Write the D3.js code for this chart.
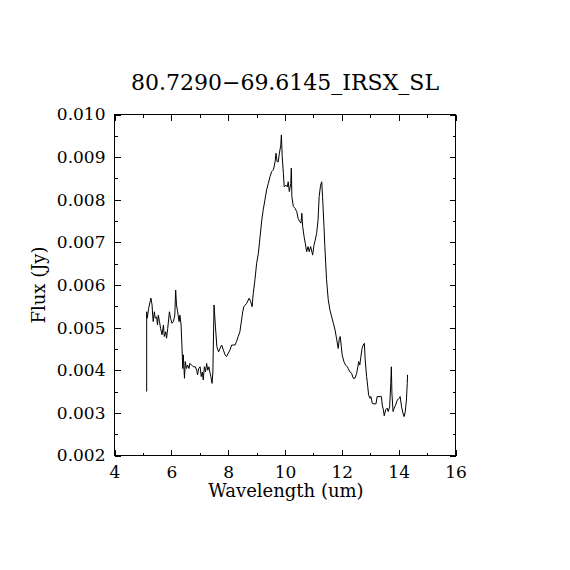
<!DOCTYPE html>
<html>
<head>
<meta charset="utf-8">
<script src="https://cdn.jsdelivr.net/npm/d3@7"></script>
<style>
  html, body { margin: 0; padding: 0; background: #fff; }
  text { font-family: "DejaVu Serif", serif; fill: #000; }
</style>
</head>
<body>
<svg id="chart" width="570" height="570"></svg>
<script>
const title = "80.7290\u221269.6145_IRSX_SL";
const xLabel = "Wavelength (um)";
const yLabel = "Flux (Jy)";
const xTicks = [4, 6, 8, 10, 12, 14, 16];
const yTicks = [0.002, 0.003, 0.004, 0.005, 0.006, 0.007, 0.008, 0.009, 0.010];
const xMinorTicks = [5, 7, 9, 11, 13, 15];
const yMinorTicks = [0.0025, 0.0035, 0.0045, 0.0055, 0.0065, 0.0075, 0.0085, 0.0095];

const wavelength = [
  5.15, 5.15, 5.17, 5.22, 5.27, 5.30, 5.34, 5.36, 5.38, 5.42, 5.45, 5.50, 5.53, 5.56, 5.60, 5.64,
  5.69, 5.74, 5.77, 5.82, 5.85, 5.89, 5.95, 5.99, 6.04, 6.09, 6.14, 6.17, 6.20, 6.24, 6.29, 6.32,
  6.36, 6.39, 6.42, 6.44, 6.48, 6.51, 6.55, 6.59, 6.64, 6.67, 6.73, 6.79, 6.86, 6.91, 6.94, 6.98,
  7.03, 7.07, 7.11, 7.14, 7.18, 7.22, 7.26, 7.30, 7.34, 7.38, 7.41, 7.45, 7.48, 7.52, 7.57, 7.62,
  7.68, 7.73, 7.79, 7.85, 7.91, 7.96, 8.02, 8.08, 8.14, 8.26, 8.31, 8.37, 8.43, 8.49, 8.53, 8.57,
  8.67, 8.76, 8.81, 8.86, 8.90, 8.96, 9.02, 9.08, 9.14, 9.20, 9.25, 9.31, 9.37, 9.43, 9.49, 9.55,
  9.61, 9.67, 9.70, 9.74, 9.78, 9.82, 9.87, 9.89, 9.92, 9.96, 9.99, 10.05, 10.10, 10.13, 10.17, 10.22,
  10.24, 10.26, 10.31, 10.37, 10.43, 10.48, 10.54, 10.58, 10.61, 10.64, 10.69, 10.73, 10.78, 10.83, 10.87, 10.92,
  10.99, 11.04, 11.08, 11.13, 11.18, 11.22, 11.27, 11.31, 11.34, 11.39, 11.42, 11.48, 11.54, 11.60, 11.66, 11.72,
  11.78, 11.84, 11.89, 11.93, 11.96, 12.00, 12.03, 12.09, 12.15, 12.21, 12.24, 12.30, 12.36, 12.42, 12.48, 12.54,
  12.58, 12.61, 12.65, 12.68, 12.73, 12.77, 12.81, 12.84, 12.89, 12.93, 12.96, 13.01, 13.04, 13.09, 13.15, 13.22,
  13.26, 13.36, 13.41, 13.44, 13.48, 13.51, 13.56, 13.61, 13.65, 13.70, 13.74, 13.76, 13.78, 13.82, 13.86, 13.91,
  13.97, 14.03, 14.07, 14.12, 14.17, 14.21, 14.25, 14.29, 14.32, 14.33
];
const flux = [
  0.00349, 0.00536, 0.00521, 0.00544, 0.00560, 0.00568, 0.00552, 0.00528, 0.00513, 0.00536, 0.00521, 0.00524, 0.00505, 0.00528, 0.00513, 0.00497,
  0.00482, 0.00505, 0.00478, 0.00489, 0.00474, 0.00497, 0.00536, 0.00521, 0.00509, 0.00513, 0.00528, 0.00587, 0.00552, 0.00536, 0.00513, 0.00528,
  0.00505, 0.00458, 0.00403, 0.00435, 0.00380, 0.00419, 0.00403, 0.00411, 0.00403, 0.00415, 0.00411, 0.00407, 0.00407, 0.00399, 0.00388, 0.00403,
  0.00407, 0.00384, 0.00395, 0.00376, 0.00407, 0.00395, 0.00415, 0.00399, 0.00407, 0.00392, 0.00384, 0.00368, 0.00395, 0.00552, 0.00501, 0.00454,
  0.00442, 0.00450, 0.00458, 0.00446, 0.00435, 0.00431, 0.00439, 0.00446, 0.00458, 0.00458, 0.00466, 0.00478, 0.00489, 0.00517, 0.00536, 0.00548,
  0.00556, 0.00568, 0.00560, 0.00548, 0.00579, 0.00611, 0.00650, 0.00673, 0.00712, 0.00751, 0.00775, 0.00798, 0.00822, 0.00837, 0.00853, 0.00865,
  0.00869, 0.00888, 0.00908, 0.00888, 0.00888, 0.00908, 0.00927, 0.00951, 0.00900, 0.00861, 0.00829, 0.00833, 0.00829, 0.00841, 0.00818, 0.00837,
  0.00873, 0.00806, 0.00783, 0.00779, 0.00771, 0.00755, 0.00747, 0.00744, 0.00767, 0.00736, 0.00712, 0.00697, 0.00677, 0.00689, 0.00677, 0.00689,
  0.00669, 0.00693, 0.00704, 0.00720, 0.00751, 0.00806, 0.00833, 0.00841, 0.00806, 0.00736, 0.00689, 0.00611, 0.00564, 0.00540, 0.00524, 0.00509,
  0.00493, 0.00470, 0.00450, 0.00474, 0.00478, 0.00454, 0.00435, 0.00419, 0.00411, 0.00407, 0.00403, 0.00395, 0.00392, 0.00380, 0.00380, 0.00392,
  0.00407, 0.00419, 0.00411, 0.00427, 0.00450, 0.00458, 0.00462, 0.00423, 0.00384, 0.00360, 0.00341, 0.00333, 0.00337, 0.00321, 0.00320, 0.00320,
  0.00337, 0.00337, 0.00337, 0.00317, 0.00306, 0.00292, 0.00306, 0.00310, 0.00302, 0.00313, 0.00368, 0.00407, 0.00345, 0.00302, 0.00310, 0.00317,
  0.00329, 0.00333, 0.00337, 0.00313, 0.00298, 0.00290, 0.00302, 0.00329, 0.00368, 0.00388
];

const svg = d3.select("#chart");
const pLeft = 114, pRight = 455, pTop = 114, pBottom = 455;

const x = d3.scaleLinear().domain([4, 16]).range([pLeft, pRight]);
const y = d3.scaleLinear().domain([0.002, 0.010]).range([pBottom, pTop]);

const fmt = d3.format(".3f");

// frame
svg.append("rect")
  .attr("x", pLeft + 0.5).attr("y", pTop + 0.5)
  .attr("width", pRight - pLeft).attr("height", pBottom - pTop)
  .attr("fill", "none").attr("stroke", "#000").attr("stroke-width", 1);

const majorLen = 6, minorLen = 3;
function addAxis(axisFn, scale, ticks, minor, tx, ty, labels) {
  const g = svg.append("g").attr("transform", `translate(${tx},${ty})`);
  g.call(axisFn(scale).tickValues(ticks).tickSize(-majorLen).tickPadding(8)
    .tickFormat(labels ? labels : () => ""));
  g.select(".domain").remove();
  g.selectAll(".tick line").attr("stroke", "#000").attr("shape-rendering", "crispEdges");
  const gm = svg.append("g").attr("transform", `translate(${tx},${ty})`);
  gm.call(axisFn(scale).tickValues(minor).tickSize(-minorLen).tickFormat(() => ""));
  gm.select(".domain").remove();
  gm.selectAll(".tick line").attr("stroke", "#000").attr("shape-rendering", "crispEdges");
  return g;
}
const gx = addAxis(d3.axisBottom, x, xTicks, xMinorTicks, 0.5, pBottom + 0.5, d => String(d));
addAxis(d3.axisTop, x, xTicks, xMinorTicks, 0.5, pTop + 0.5, null);
const gy = addAxis(d3.axisLeft, y, yTicks, yMinorTicks, pLeft + 0.5, 0.5, d => fmt(d));
addAxis(d3.axisRight, y, yTicks, yMinorTicks, pRight + 0.5, 0.5, null);

gx.selectAll(".tick text").attr("font-family", "DejaVu Serif").attr("font-size", 17).attr("fill", "#000")
  .attr("dy", "0.71em").attr("y", 10);
gy.selectAll(".tick text").attr("font-family", "DejaVu Serif").attr("font-size", 17).attr("fill", "#000")
  .attr("x", -9);

// line
const line = d3.line().x((d, i) => x(wavelength[i])).y(d => y(d));
svg.append("path")
  .datum(flux)
  .attr("d", line)
  .attr("fill", "none")
  .attr("stroke", "#000")
  .attr("stroke-width", 1);

// title
svg.append("text")
  .attr("x", 285).attr("y", 90)
  .attr("text-anchor", "middle")
  .attr("font-size", 22)
  .text(title);

// x label
svg.append("text")
  .attr("x", 286).attr("y", 497)
  .attr("text-anchor", "middle")
  .attr("font-size", 18)
  .text(xLabel);

// y label
svg.append("text")
  .attr("transform", "translate(45,285) rotate(-90)")
  .attr("text-anchor", "middle")
  .attr("font-size", 18)
  .text(yLabel);
</script>
</body>
</html>
